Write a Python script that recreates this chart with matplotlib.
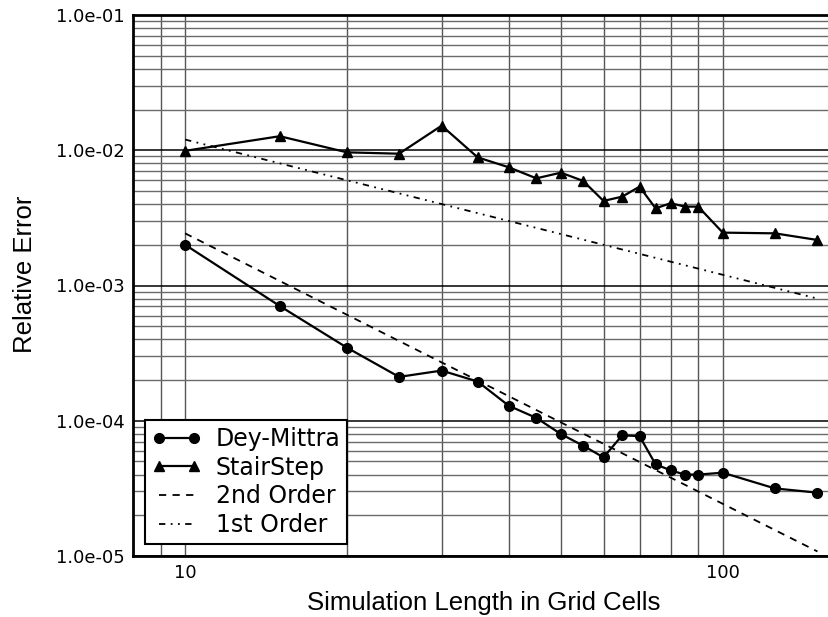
import matplotlib
matplotlib.use("Agg")
import matplotlib.pyplot as plt
from matplotlib.ticker import FuncFormatter, NullFormatter, LogLocator, FixedLocator

# grid sizes used in the convergence runs
cells = [10, 15, 20, 25, 30, 35, 40, 45, 50, 55, 60, 65, 70, 75, 80, 85, 90, 100, 125, 150]

# relative error for each boundary treatment
dey_mittra = [2.0e-3, 7.05e-4, 3.47e-4, 2.11e-4, 2.35e-4, 1.95e-4, 1.29e-4, 1.05e-4,
              7.97e-5, 6.54e-5, 5.36e-5, 7.8e-5, 7.7e-5, 4.76e-5, 4.3e-5, 4.0e-5,
              4.0e-5, 4.13e-5, 3.16e-5, 2.94e-5]
stair_step = [9.9e-3, 1.27e-2, 9.65e-3, 9.43e-3, 1.52e-2, 8.86e-3, 7.48e-3, 6.2e-3,
              6.83e-3, 5.93e-3, 4.22e-3, 4.54e-3, 5.38e-3, 3.72e-3, 4.06e-3, 3.83e-3,
              3.83e-3, 2.46e-3, 2.43e-3, 2.17e-3]

# reference slopes, given by their end points
order2_x = [10, 150]
order2_y = [2.43e-3, 1.08e-5]
order1_x = [10, 150]
order1_y = [1.2e-2, 8.0e-4]

fig = plt.figure(figsize=(8.29, 6.17), dpi=100)
ax = fig.add_axes([133 / 829, 61 / 617, (834 - 133) / 829, 541 / 617])

ax.set_xscale("log")
ax.set_yscale("log")
ax.set_xlim(8, 161)
ax.set_ylim(1e-5, 1e-1)

ax.plot(cells, dey_mittra, "k-", marker="o", markersize=7, lw=1.6, label="Dey-Mittra", zorder=4)
ax.plot(cells, stair_step, "k-", marker="^", markersize=7.5, lw=1.6, label="StairStep", zorder=4)
ax.plot(order2_x, order2_y, color="k", lw=1.3, linestyle=(0, (4, 3.5)), label="2nd Order", zorder=3)
ax.plot(order1_x, order1_y, color="k", lw=1.3, linestyle=(0, (3.5, 3, 1, 3, 1, 3)),
        label="1st Order", zorder=3)

ax.yaxis.set_major_locator(LogLocator(base=10, numticks=10))
ax.yaxis.set_minor_locator(LogLocator(base=10, subs=range(2, 10), numticks=20))
ax.yaxis.set_major_formatter(FuncFormatter(lambda v, p: "%.1e" % v))
ax.yaxis.set_minor_formatter(NullFormatter())
ax.xaxis.set_major_locator(FixedLocator([10, 100]))
ax.xaxis.set_minor_locator(FixedLocator([9, 20, 30, 40, 50, 60, 70, 80, 90]))
ax.xaxis.set_major_formatter(FuncFormatter(lambda v, p: "%d" % v))
ax.xaxis.set_minor_formatter(NullFormatter())

ax.grid(True, which="major", axis="y", color="black", lw=1.1)
ax.grid(True, which="minor", axis="y", color="#6a6a6a", lw=1.0)
ax.grid(True, which="both", axis="x", color="#555555", lw=1.0)
ax.set_axisbelow(True)

ax.tick_params(which="both", length=0, labelsize=13, pad=6)
for s in ax.spines.values():
    s.set_linewidth(2)

ax.set_xlabel("Simulation Length in Grid Cells", fontsize=18.5, family="Liberation Sans", labelpad=6)
ax.set_ylabel("Relative Error", fontsize=18.5, family="Liberation Sans", labelpad=12)
ax.yaxis.set_label_coords(-0.137, 0.52)

leg = ax.legend(loc="lower left", fontsize=17, numpoints=2, handlelength=2.1,
                labelspacing=0.2, borderaxespad=0.5, fancybox=False, framealpha=1,
                edgecolor="black", handletextpad=0.6, borderpad=0.3)
leg.get_frame().set_linewidth(1.5)

fig.savefig("out.png", dpi=100)
